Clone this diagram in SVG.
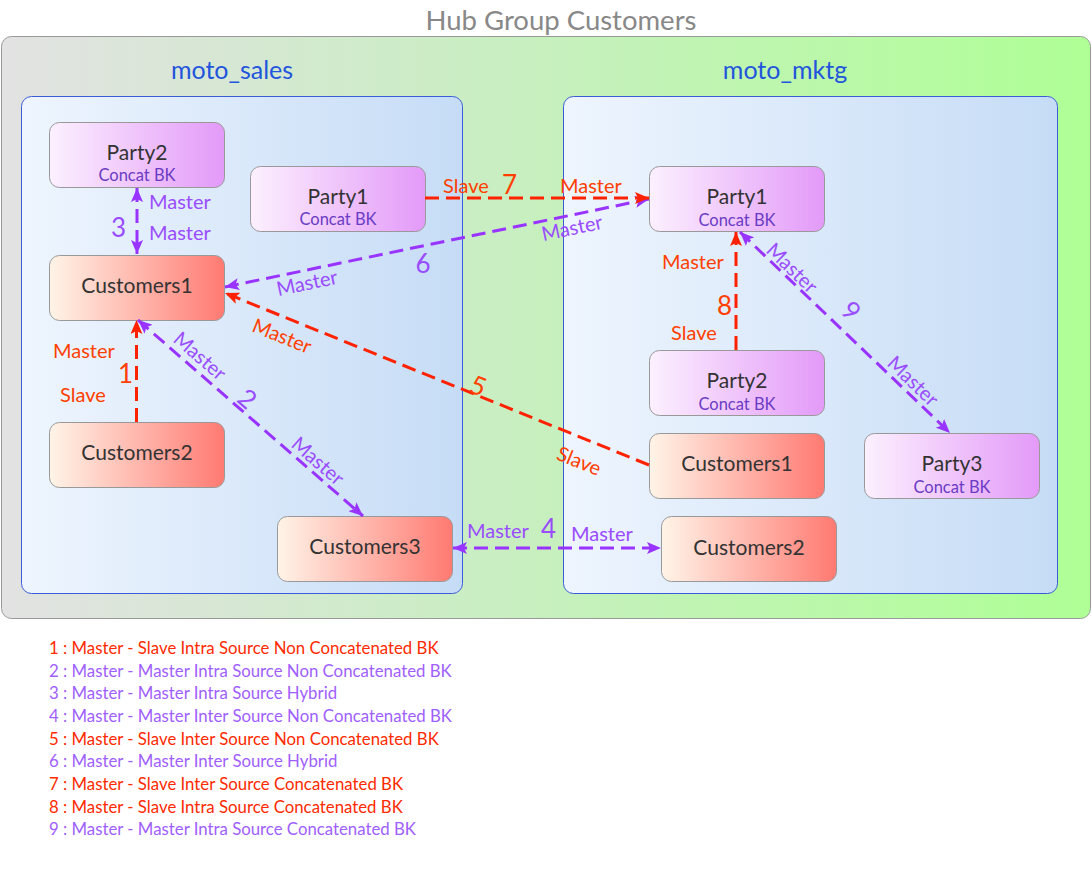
<svg xmlns="http://www.w3.org/2000/svg" width="1092" height="888" viewBox="0 0 1092 888">
<style>
text{font-family:Lato,"Noto Sans","Liberation Sans",sans-serif}
.node{stroke:#999;stroke-width:1}
.party{fill:url(#gParty)}
.cust{fill:url(#gCust)}
.nt{font-size:21px;fill:#333;text-anchor:middle}
.st{font-size:16.5px;fill:#6a3cc4;text-anchor:middle}
.red{stroke:#ff2200;stroke-width:3;stroke-dasharray:14 7;fill:none}
.pur{stroke:#9933ff;stroke-width:3;stroke-dasharray:14 7;fill:none}
.lr{font-size:20px;fill:#ff4000}
.lp{font-size:20px;fill:#9a4dff}
.nr{font-size:26px;fill:#ff4000}
.np{font-size:26px;fill:#9a4dff}
.c{text-anchor:middle}
.leg{font-size:16.8px}
.legr{fill:#ff2a00}
.legp{fill:#a060ff}
</style>
<defs>
<linearGradient id="gOuter" x1="0" y1="0" x2="1" y2="0">
<stop offset="0" stop-color="#e2e2e2"/><stop offset="0.45" stop-color="#c9eec2"/><stop offset="1" stop-color="#afff96"/>
</linearGradient>
<linearGradient id="gInner" x1="0" y1="0" x2="1" y2="0">
<stop offset="0" stop-color="#eef5fe"/><stop offset="1" stop-color="#c6dcf6"/>
</linearGradient>
<linearGradient id="gParty" x1="0" y1="0" x2="1" y2="0">
<stop offset="0" stop-color="#fcf0fe"/><stop offset="1" stop-color="#e39af8"/>
</linearGradient>
<linearGradient id="gCust" x1="0" y1="0" x2="1" y2="0">
<stop offset="0" stop-color="#fff4e8"/><stop offset="1" stop-color="#ff7a72"/>
</linearGradient>
<marker id="aR" markerUnits="userSpaceOnUse" markerWidth="14" markerHeight="12" refX="14" refY="6" orient="auto-start-reverse">
<path d="M0,0 L14,6 L0,12 L3,6 z" fill="#ff2200"/>
</marker>
<marker id="aP" markerUnits="userSpaceOnUse" markerWidth="14" markerHeight="12" refX="14" refY="6" orient="auto-start-reverse">
<path d="M0,0 L14,6 L0,12 L3,6 z" fill="#9933ff"/>
</marker>
</defs>
<rect width="1092" height="888" fill="#fff"/>
<text x="561" y="30" font-size="27.5" fill="#888" text-anchor="middle">Hub Group Customers</text>
<g id="hub">
<rect x="1.5" y="36.5" width="1089" height="582" rx="10" fill="url(#gOuter)" stroke="#999" stroke-width="1"/>
</g>
<g id="moto_sales">
<text x="232" y="79" font-size="25" fill="#2255dd" text-anchor="middle">moto_sales</text>
<rect x="21.5" y="96.5" width="441" height="497" rx="10" fill="url(#gInner)" stroke="#3a5cd6" stroke-width="1"/>
</g>
<g id="moto_mktg">
<text x="785" y="79" font-size="25" fill="#2255dd" text-anchor="middle">moto_mktg</text>
<rect x="563.5" y="96.5" width="494" height="497" rx="10" fill="url(#gInner)" stroke="#3a5cd6" stroke-width="1"/>
</g>
<g id="sales_party2"><rect class="node party" x="49.5" y="122.5" width="175" height="65" rx="10"/><text class="nt" x="137" y="160">Party2</text><text class="st" x="137" y="181">Concat BK</text></g>
<g id="sales_party1"><rect class="node party" x="250.5" y="166.5" width="175" height="65" rx="10"/><text class="nt" x="338" y="204">Party1</text><text class="st" x="338" y="225">Concat BK</text></g>
<g id="sales_customers1"><rect class="node cust" x="49.5" y="255.5" width="175" height="65" rx="10"/><text class="nt" x="137" y="293">Customers1</text></g>
<g id="sales_customers2"><rect class="node cust" x="49.5" y="422.5" width="175" height="65" rx="10"/><text class="nt" x="137" y="460">Customers2</text></g>
<g id="sales_customers3"><rect class="node cust" x="277.5" y="516.5" width="175" height="65" rx="10"/><text class="nt" x="365" y="554">Customers3</text></g>
<g id="mktg_party1"><rect class="node party" x="649.5" y="166.5" width="175" height="65" rx="10"/><text class="nt" x="737" y="204">Party1</text><text class="st" x="737" y="226">Concat BK</text></g>
<g id="mktg_party2"><rect class="node party" x="649.5" y="350.5" width="175" height="65" rx="10"/><text class="nt" x="737" y="388">Party2</text><text class="st" x="737" y="410">Concat BK</text></g>
<g id="mktg_customers1"><rect class="node cust" x="649.5" y="433.5" width="175" height="65" rx="10"/><text class="nt" x="737" y="471">Customers1</text></g>
<g id="mktg_party3"><rect class="node party" x="864.5" y="433.5" width="175" height="65" rx="10"/><text class="nt" x="952" y="471">Party3</text><text class="st" x="952" y="493">Concat BK</text></g>
<g id="mktg_customers2"><rect class="node cust" x="661.5" y="516.5" width="175" height="65" rx="10"/><text class="nt" x="749" y="555">Customers2</text></g>
<g id="connectors">
<line class="red" x1="136.5" y1="422" x2="136.5" y2="320" marker-end="url(#aR)"/>
<line class="pur" x1="138" y1="320" x2="363" y2="516" marker-start="url(#aP)" marker-end="url(#aP)"/>
<line class="pur" x1="137" y1="188" x2="137" y2="254" marker-start="url(#aP)" marker-end="url(#aP)"/>
<line class="pur" x1="453" y1="548" x2="661" y2="548" marker-start="url(#aP)" marker-end="url(#aP)"/>
<line class="red" x1="649" y1="465" x2="225" y2="293" marker-end="url(#aR)"/>
<line class="pur" x1="225" y1="287" x2="649" y2="199" marker-start="url(#aP)" marker-end="url(#aP)"/>
<line class="red" x1="425" y1="198" x2="649" y2="198" marker-end="url(#aR)"/>
<line class="red" x1="736" y1="350" x2="736" y2="232" marker-end="url(#aR)"/>
<line class="pur" x1="740" y1="232" x2="950" y2="433" marker-start="url(#aP)" marker-end="url(#aP)"/>
<text class="lr" x="53" y="358">Master</text><text class="nr" x="118" y="383">1</text><text class="lr" x="60" y="402">Slave</text>
<text class="lp c" transform="translate(200,356) rotate(41)" y="7">Master</text>
<text class="np c" transform="translate(247,399) rotate(41)" y="9">2</text>
<text class="lp c" transform="translate(318,461) rotate(41)" y="7">Master</text>
<text class="lp" x="149" y="209">Master</text><text class="np" x="111" y="237">3</text><text class="lp" x="149" y="240">Master</text>
<text class="lp" x="467" y="538">Master</text><text class="np" x="541" y="538">4</text><text class="lp" x="571" y="541">Master</text>
<text class="lr c" transform="translate(282,336) rotate(22)" y="7">Master</text>
<text class="nr c" transform="translate(478,386) rotate(22)" y="9">5</text>
<text class="lr c" transform="translate(579,461) rotate(22)" y="7">Slave</text>
<text class="lp c" transform="translate(307,283) rotate(-12)" y="7">Master</text>
<text class="np c" x="423" y="273">6</text>
<text class="lp c" transform="translate(572,228) rotate(-12)" y="7">Master</text>
<text class="lr" x="443" y="193">Slave</text><text class="nr" x="502" y="194">7</text><text class="lr" x="560" y="193">Master</text>
<text class="lr" x="662" y="269">Master</text><text class="nr" x="717" y="315">8</text><text class="lr" x="671" y="340">Slave</text>
<text class="lp c" transform="translate(792,268) rotate(44)" y="7">Master</text>
<text class="np c" transform="translate(851,311) rotate(44)" y="9">9</text>
<text class="lp c" transform="translate(913,381) rotate(44)" y="7">Master</text>
</g>
<g id="legend" class="leg">
<text class="leg legr" x="49" y="654">1 : Master - Slave Intra Source Non Concatenated BK</text>
<text class="leg legp" x="49" y="677">2 : Master - Master Intra Source Non Concatenated BK</text>
<text class="leg legp" x="49" y="699">3 : Master - Master Intra Source Hybrid</text>
<text class="leg legp" x="49" y="722">4 : Master - Master Inter Source Non Concatenated BK</text>
<text class="leg legr" x="49" y="745">5 : Master - Slave Inter Source Non Concatenated BK</text>
<text class="leg legp" x="49" y="767">6 : Master - Master Inter Source Hybrid</text>
<text class="leg legr" x="49" y="790">7 : Master - Slave Inter Source Concatenated BK</text>
<text class="leg legr" x="49" y="813">8 : Master - Slave Intra Source Concatenated BK</text>
<text class="leg legp" x="49" y="835">9 : Master - Master Intra Source Concatenated BK</text>
</g>
</svg>
